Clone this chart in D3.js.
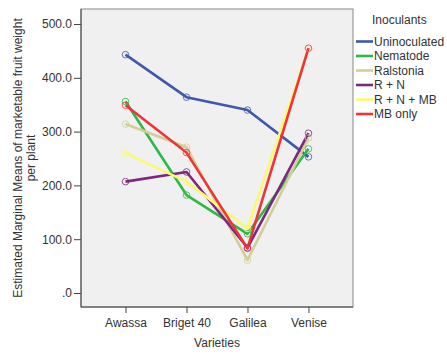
<!DOCTYPE html>
<html><head><meta charset="utf-8">
<script src="https://cdn.jsdelivr.net/npm/d3@7"></script>
<style>body{margin:0;background:#fff;} text{font-family:"Liberation Sans",Arial,sans-serif;}</style>
</head><body>
<svg id="c" width="447" height="355"></svg>
<script>
const varieties = ["Awassa","Briget 40","Galilea","Venise"];
const inoculants = ["Uninoculated","Nematode","Ralstonia","R + N","R + N + MB","MB only"];
const colors = ["#3E58AC","#2EB848","#D3CE97","#7C287D","#FBF873","#EF3338"];
const uninoculated = [443, 364, 340, 253];
const nematode = [356, 182, 110, 268];
const ralstonia = [314, 271, 61, 288];
const rn = [207, 225, 84, 297];
const rnmb = [260, 207, 120, 455];
const mbOnly = [349, 261, 83, 455];
const seriesValues = [uninoculated, nematode, ralstonia, rn, rnmb, mbOnly];
const yTicks = [0,100,200,300,400,500];

const svg = d3.select("#c");
const L=81, R=353, T=9, B=307;
const x = d3.scalePoint().domain(varieties).range([L,R]).padding(0.73);
const y = d3.scaleLinear().domain([0,500]).range([293,24]);

svg.append("rect").attr("x",L).attr("y",T).attr("width",R-L).attr("height",B-T).attr("fill","#F0F0F0").attr("stroke","#888").attr("stroke-width",1);

const ya = svg.append("g").attr("transform",`translate(${L},0)`)
  .call(d3.axisLeft(y).tickValues(yTicks).tickFormat(d=> d===0? ".0" : d3.format(".1f")(d)).tickSize(7).tickPadding(2));
ya.select(".domain").remove();
ya.selectAll("line").attr("stroke","#444");
ya.selectAll("text").attr("font-size",12).attr("fill","#333").attr("font-family","Liberation Sans, Arial, sans-serif");

const xa = svg.append("g").attr("transform",`translate(0,${B})`)
  .call(d3.axisBottom(x).tickSize(6).tickPadding(5));
xa.select(".domain").remove();
xa.selectAll("line").attr("stroke","#444");
xa.selectAll("text").attr("font-size",12).attr("fill","#333").attr("font-family","Liberation Sans, Arial, sans-serif");

svg.append("line").attr("x1",L).attr("x2",L).attr("y1",T).attr("y2",B).attr("stroke","#444");
svg.append("line").attr("x1",L).attr("x2",R).attr("y1",B).attr("y2",B).attr("stroke","#444");

const line = d3.line().x((d,i)=>x(varieties[i])).y(d=>y(d));
seriesValues.forEach((vals,k)=>{
  svg.append("path").datum(vals).attr("d",line).attr("fill","none").attr("stroke",colors[k]).attr("stroke-width",2.6).attr("stroke-linejoin","round");
});
seriesValues.forEach((vals,k)=>{
  svg.selectAll(null).data(vals).enter().append("circle")
    .attr("cx",(d,i)=>x(varieties[i])).attr("cy",d=>y(d)).attr("r",3.3)
    .attr("fill","none").attr("stroke",colors[k]).attr("stroke-width",1).attr("stroke-opacity",0.8);
});

svg.append("text").attr("x",217).attr("y",347).attr("text-anchor","middle").attr("font-size",12).attr("fill","#333").text("Varieties");
const yt = svg.append("text").attr("transform",`translate(22,158) rotate(-90)`).attr("text-anchor","middle").attr("font-size",12).attr("fill","#333");
yt.append("tspan").attr("x",0).attr("dy",0).text("Estimated Marginal Means of marketable fruit weight");
yt.append("tspan").attr("x",0).attr("dy",13).text("per plant");

svg.append("text").attr("x",372).attr("y",24).attr("font-size",12).attr("fill","#333").text("Inoculants");
inoculants.forEach((name,k)=>{
  const yy = 41.5 + k*14.5;
  svg.append("line").attr("x1",356).attr("x2",373).attr("y1",yy).attr("y2",yy).attr("stroke",colors[k]).attr("stroke-width",2.6);
  svg.append("text").attr("x",374).attr("y",yy+4).attr("font-size",12).attr("fill","#333").text(name);
});
</script>
</body></html>
